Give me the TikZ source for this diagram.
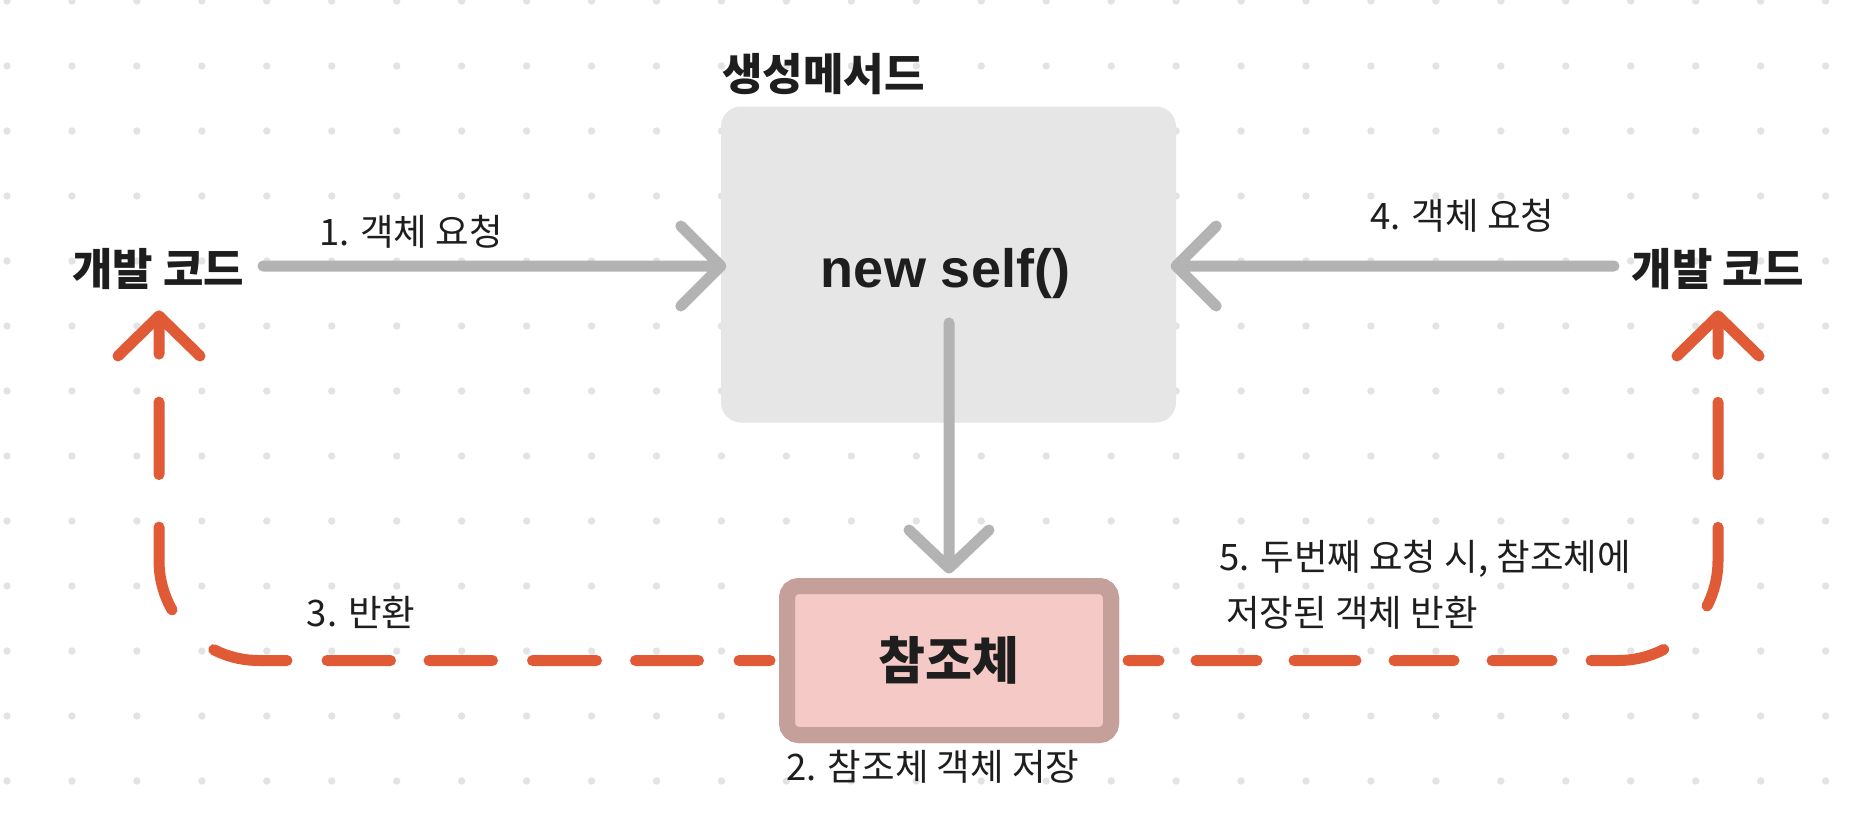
\documentclass[tikz,border=0pt]{standalone}
\usepackage{fontspec}
\usetikzlibrary{calc}
\newfontfamily\kr{Noto Sans CJK KR}
\newfontfamily\lat{Liberation Sans}
\definecolor{ink}{HTML}{1E1E1E}
\definecolor{dotc}{HTML}{E3E3E3}
\definecolor{greyln}{HTML}{B3B3B3}
\definecolor{boxfill}{HTML}{E6E6E6}
\definecolor{redln}{HTML}{E05A36}
\definecolor{pinkfill}{HTML}{F5C9C5}
\definecolor{pinkdraw}{HTML}{C59F99}
\begin{document}
\begin{tikzpicture}[x=1pt,y=-1pt,
  greyline/.style={draw=greyln, line width=11pt, line cap=round, line join=round},
  reddash/.style={draw=redln, line width=11pt, line cap=round, line join=round, rounded corners=100pt},
  redsolid/.style={draw=redln, line width=11pt, line cap=round, line join=round},
  titletext/.style={font=\kr\bfseries\fontsize{44}{52}\selectfont, text=ink, inner sep=0pt},
  labeltext/.style={font=\kr\fontsize{36.5}{55}\selectfont, text=ink, inner sep=0pt},
  genbox/.style={fill=boxfill, rounded corners=20pt, minimum width=455pt, minimum height=316pt, inner sep=0pt},
  refbox/.style={draw=pinkdraw, fill=pinkfill, line width=16pt, rounded corners=12pt, minimum width=324pt, minimum height=149pt, inner sep=0pt, font=\kr\bfseries\fontsize{51}{60}\selectfont, text=ink}
]
\useasboundingbox (0,0) rectangle (1862,814);
\fill[white] (0,0) rectangle (1862,814);
% dot grid
\foreach \i in {0,...,28}{
  \foreach \j in {0,...,12}{
    \fill[dotc] (7+64.95*\i, 1+65*\j) circle (3.7pt);
  }
}
% boxes
\node[genbox] (gen) at (948.5,264.5) {};
\node[titletext, anchor=base west] (gentitle) at (722,90) {생성메서드};
\node[font=\lat\bfseries\fontsize{54}{60}\selectfont, text=ink, inner sep=0pt, anchor=base] (newself) at (945.5,287) {new self()};

\node[titletext, anchor=base] (devL) at (158,285) {개발 코드};
\node[titletext, anchor=base] (devR) at (1717.5,285) {개발 코드};

% red dashed connectors (drawn below the reference box)
\node[refbox] (ref) at (949,660.5) {};
\coordinate (tipL) at (159,316);
\coordinate (tipR) at (1718,316);
\draw[reddash, dash pattern=on 31pt off 40.5pt on 63pt off 39pt on 64pt off 40pt on 63.5pt off 38.5pt on 63.5pt off 40pt on 75pt off 58.5pt on 85pt off 52.5pt on 72.5pt off 48pt on 300pt]
  ($(ref.west)+(-9,0)$) -- (ref.west -| tipL) -- (tipL);
\draw[redsolid] ($(tipL)+(-41,40)$) -- (tipL) -- ($(tipL)+(41,40)$);
\draw[reddash, dash pattern=on 31pt off 37pt on 61pt off 37pt on 62pt off 38pt on 60pt off 38pt on 60pt off 39pt on 74.5pt off 62.4pt on 80.4pt off 52.5pt on 72.5pt off 48pt on 300pt]
  ($(ref.east)+(9,0)$) -- (ref.east -| tipR) -- (tipR);
\draw[redsolid] ($(tipR)+(-41,40)$) -- (tipR) -- ($(tipR)+(41,40)$);

\node[refbox] (refbox) at (949,660.5) {참조체};

% grey connectors
\coordinate (a1s) at (263,266);
\draw[greyline] (a1s) -- (a1s -| gen.west) coordinate (a1t) -- ++(-40,-40) (a1t) -- ++(-40,40);
\coordinate (a4s) at (1614,266);
\draw[greyline] (a4s) -- (a4s -| gen.east) coordinate (a4t) -- ++(40,-40) (a4t) -- ++(40,40);
\coordinate (a2s) at (949,323);
\draw[greyline] (a2s) -- ($(ref.north)+(0,-10)$) coordinate (a2t) -- ++(-40,-38) (a2t) -- ++(40,-38);

% labels
\node[labeltext, anchor=base] (lab1) at (411,245) {1. 객체 요청};
\node[labeltext, anchor=base] (lab4) at (1462.5,229) {4. 객체 요청};
\node[labeltext, anchor=base] (lab2) at (933,780) {2. 참조체 객체 저장};
\node[labeltext, anchor=base] (lab3) at (361,626) {3. 반환};
\node[labeltext, anchor=base west] (lab5) at (1219,570) {5. 두번째 요청 시, 참조체에};
\node[labeltext, anchor=base west] (lab5b) at (1226,626) {저장된 객체 반환};
\end{tikzpicture}
\end{document}
